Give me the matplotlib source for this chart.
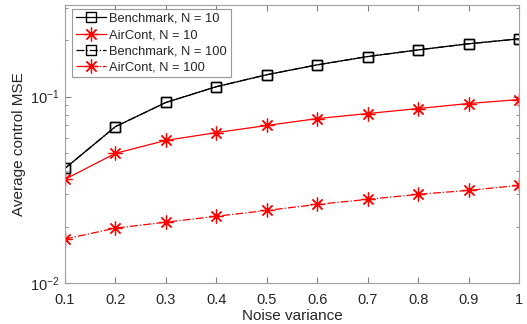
import matplotlib
matplotlib.use("Agg")
import matplotlib.pyplot as plt
from matplotlib.ticker import LogLocator, NullFormatter

plt.rcParams['font.family'] = ['Liberation Sans', 'DejaVu Sans']

noise = [0.1, 0.2, 0.3, 0.4, 0.5, 0.6, 0.7, 0.8, 0.9, 1.0]
bench_10 = [0.0412, 0.069, 0.093, 0.113, 0.131, 0.148, 0.164, 0.178, 0.192, 0.204]
aircont_10 = [0.036, 0.0496, 0.0582, 0.0641, 0.070, 0.0762, 0.0811, 0.0863, 0.0918, 0.0964]
bench_100 = [0.0412, 0.069, 0.093, 0.113, 0.131, 0.148, 0.164, 0.178, 0.192, 0.204]
aircont_100 = [0.0172, 0.0197, 0.0212, 0.0228, 0.0245, 0.0264, 0.0281, 0.0299, 0.0314, 0.0334]
labels = ["Benchmark, N = 10", "AirCont, N = 10", "Benchmark, N = 100", "AirCont, N = 100"]
xticks = [0.1, 0.2, 0.3, 0.4, 0.5, 0.6, 0.7, 0.8, 0.9, 1.0]
xticklabels = ["0.1", "0.2", "0.3", "0.4", "0.5", "0.6", "0.7", "0.8", "0.9", "1"]

fig = plt.figure(figsize=(5.27, 3.24), dpi=100)
ax = fig.add_axes([65/527, 1-283/324, (519-65)/527, (283-5)/324])

ast = (8, 2, 0)
ax.plot(noise, bench_10, '-', color='black', lw=0.9, marker='s', ms=6.5,
        mfc='none', mec='black', mew=1.0, label=labels[0])
ax.plot(noise, aircont_10, '-', color='#ff0000', lw=0.9, marker=ast, ms=10,
        mec='#ff0000', mew=0.9, label=labels[1])
ax.plot(noise, bench_100, '-.', color='black', lw=0.9, marker='s', ms=6.5,
        mfc='none', mec='black', mew=1.0, label=labels[2])
ax.plot(noise, aircont_100, '-.', color='#ff0000', lw=0.9, marker=ast, ms=10,
        mec='#ff0000', mew=0.9, label=labels[3])

ax.set_yscale('log')
ax.set_xlim(0.1, 1.0)
ax.set_ylim(0.01, 0.31)
ax.set_xticks(xticks)
ax.set_xticklabels(xticklabels)
ax.yaxis.set_major_locator(LogLocator(base=10, numticks=10))
ax.yaxis.set_minor_locator(LogLocator(base=10, subs=range(2, 10), numticks=20))
ax.yaxis.set_minor_formatter(NullFormatter())

gray = '#262626'
for sp in ax.spines.values():
    sp.set_color('#a0a0a0')
    sp.set_linewidth(0.8)
ax.tick_params(which='both', direction='in', top=True, right=True,
               colors='#808080', labelcolor=gray, labelsize=10.5)
ax.tick_params(which='major', length=4)
ax.tick_params(which='minor', length=2.5)
ax.tick_params(axis='x', pad=7)
ax.tick_params(axis='y', pad=4)

ax.set_xlabel("Noise variance", fontsize=11, color=gray, labelpad=2)
ax.set_ylabel("Average control MSE", fontsize=11, color=gray, labelpad=3)

leg = ax.legend(loc='upper left', bbox_to_anchor=(7/454, 1-4/278),
                borderaxespad=0, fontsize=9.3, frameon=True, fancybox=False,
                handlelength=2.35, handletextpad=0.25,
                labelspacing=0.32, borderpad=0.3)
leg.get_frame().set_edgecolor('#808080')
leg.get_frame().set_linewidth(0.8)
for t in leg.get_texts():
    t.set_color(gray)

fig.savefig("out.png", dpi=100)
